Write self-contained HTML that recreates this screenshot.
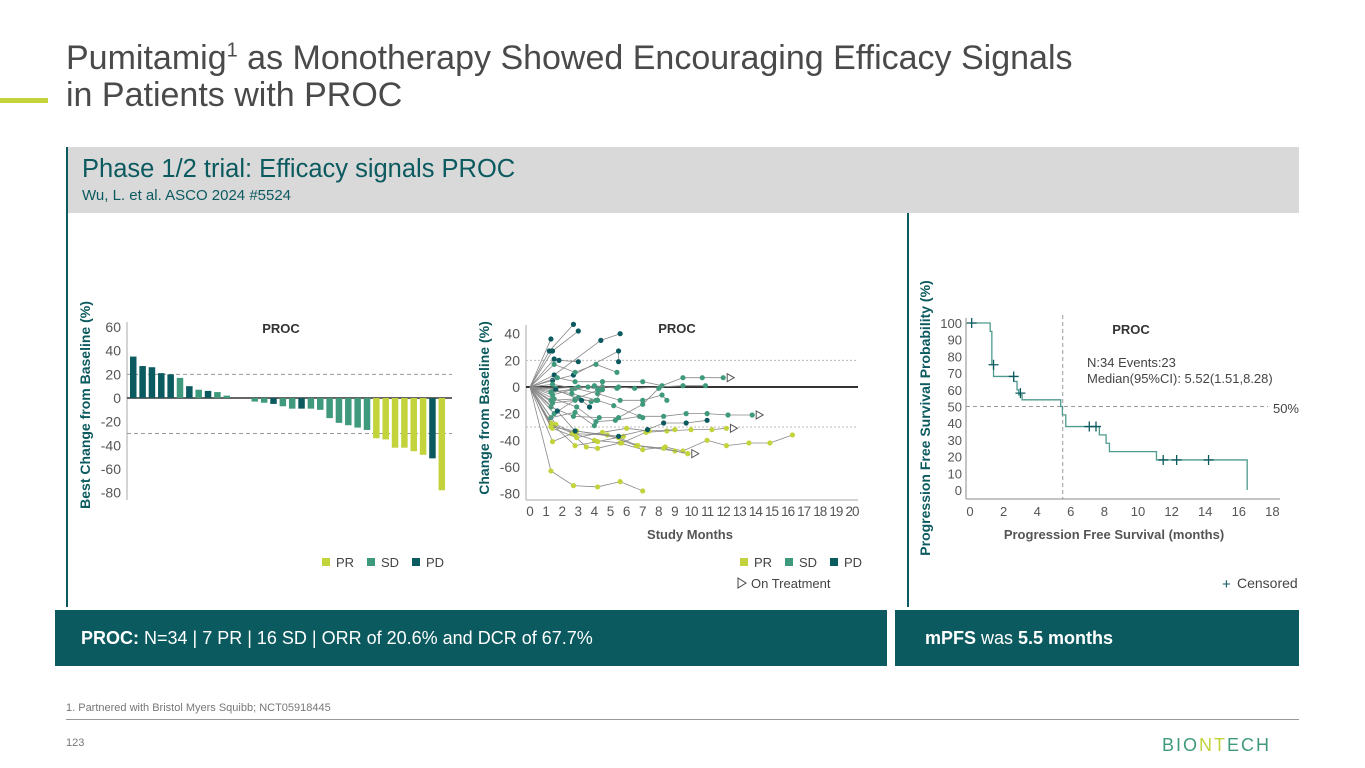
<!DOCTYPE html>
<html><head><meta charset="utf-8"><style>
body{margin:0;width:1365px;height:768px;overflow:hidden;background:#fff;font-family:"Liberation Sans",sans-serif;position:relative}
.abs{position:absolute}
svg text{font-family:"Liberation Sans",sans-serif}
</style></head><body>
<div class="abs" style="left:66px;top:40px;font-size:34px;line-height:37px;color:#4a4a4a">Pumitamig<sup style="font-size:20px;line-height:0">1</sup> as Monotherapy Showed Encouraging Efficacy Signals<br>in Patients with PROC</div>
<div class="abs" style="left:0;top:98px;width:48px;height:5px;background:#c2d33b"></div>
<div class="abs" style="left:66px;top:147px;width:1233px;height:66px;background:#d9d9d9"></div>
<div class="abs" style="left:82px;top:155px;font-size:25.5px;color:#0b5a5f">Phase 1/2 trial: Efficacy signals PROC</div>
<div class="abs" style="left:82px;top:187px;font-size:15px;color:#0b5a5f">Wu, L. et al. ASCO 2024 #5524</div>
<div class="abs" style="left:66px;top:147px;width:1.5px;height:460px;background:#0b5a5f"></div>
<div class="abs" style="left:907px;top:213px;width:1.5px;height:394px;background:#0b5a5f"></div>
<div class="abs" style="left:55px;top:610px;width:832px;height:56px;background:#0b5a5f;color:#fff;font-size:18px;line-height:56px;padding-left:26px;box-sizing:border-box"><b>PROC:</b> N=34 | 7 PR | 16 SD | ORR of 20.6% and DCR of 67.7%</div>
<div class="abs" style="left:895px;top:610px;width:404px;height:56px;background:#0b5a5f;color:#fff;font-size:18px;line-height:56px;padding-left:30px;box-sizing:border-box"><b>mPFS</b> was <b>5.5 months</b></div>
<div class="abs" style="left:66px;top:702px;font-size:11px;color:#777">1. Partnered with Bristol Myers Squibb; NCT05918445</div>
<div class="abs" style="left:66px;top:719px;width:1233px;height:1px;background:#999"></div>
<div class="abs" style="left:66px;top:737px;font-size:11px;color:#777">123</div>
<div class="abs" style="left:1162px;top:735px;font-size:18px;letter-spacing:2px;color:#3f9a7d">BIO<span style="color:#c2d33b">NT</span>ECH</div>
<svg class="abs" style="left:0;top:0" width="1365" height="768" id="charts"></svg>
<script>
// ---- Waterfall data ----
const wfValues=[35,27,26,21,20,17,10,7,6,5,2,0,0,-3,-4,-5,-7,-9,-9,-9,-10,-17,-21,-23,-25,-27,-34,-35,-42,-42,-45,-48,-51,-78];
const wfResp=["PD","PD","PD","PD","PD","SD","PD","SD","PD","SD","SD","SD","SD","SD","SD","PD","SD","SD","PD","SD","SD","SD","SD","SD","SD","SD","PR","PR","PR","PR","PR","PR","PD","PR"];
const wfTicks=[60,40,20,0,-20,-40,-60,-80];
// ---- Spider data: [month,value] points per patient ----
const spResp=["PD","PD","PD","PD","PD","PD","SD","SD","SD","SD","SD","SD","SD","SD","SD","SD","SD","PR","PR","PR","PR","PR","PR","PR","PD","SD","PD","SD"];
const spSeries=[
[[0,0],[1.2,27],[2.7,47]],
[[0,0],[1.4,27],[3,42]],
[[0,0],[1.3,36]],
[[0,0],[1.5,21],[1.8,20],[3,19]],
[[0,0],[1.5,9],[4.4,35],[5.6,40]],
[[0,0],[1.4,5],[2.7,9],[5.5,27],[5.5,19]],
[[0,0],[1.5,17],[2.8,11],[4.1,17],[5.4,11]],
[[0,0],[1.7,7],[2.8,4],[4.5,4],[7,4],[8.2,1],[9.5,7],[10.7,7],[12,7]],
[[0,0],[1.4,2],[2.8,-1],[4.2,-5],[5.6,-10],[7,-10],[8.2,-6],[8.5,-10]],
[[0,0],[1.6,-1],[3,0],[4.5,0],[5.5,0],[6.5,-1],[9.5,1],[10.9,1]],
[[0,0],[1.5,-9],[2.9,-15],[4.1,-26],[5.3,-25],[6.8,-22],[8.3,-22],[9.7,-20],[11,-20],[12.3,-21],[13.8,-21]],
[[0,0],[1.3,-15],[2.7,-22],[4.3,-23],[5.5,-23],[7,-13],[8,-1]],
[[0,0],[1.4,-3],[2.6,-5],[4.2,-10],[5.2,-14],[7,-23]],
[[0,0],[1.3,-10],[2.8,-9],[4.3,-2],[4.5,4]],
[[0,0],[1.3,-23],[2.8,-19],[4,-29]],
[[0,0],[1.5,-20],[3,-8],[3.8,-11]],
[[0,0],[1.4,-6],[2.6,-2],[4.0,1],[5.4,-1]],
[[0,0],[1.4,-41],[2.6,-35],[3.5,-45],[4.2,-46],[5.6,-42],[7,-47],[8.4,-45],[9.5,-48],[11,-40],[12.2,-44],[13.6,-42],[14.9,-42],[16.3,-36]],
[[0,0],[1.3,-63],[2.7,-74],[4.2,-75],[5.6,-71],[7,-78]],
[[0,0],[1.6,-28],[2.8,-35],[4,-40],[5.7,-42],[7.2,-34],[8.5,-33],[10,-32],[11.3,-32],[12.2,-31]],
[[0,0],[1.4,-31],[2.9,-38],[4.5,-34],[6,-31],[7.4,-33],[9,-32]],
[[0,0],[1.3,-27],[2.8,-44],[4.2,-41],[5.8,-37]],
[[0,0],[1.3,-28],[2.7,-35],[4.8,-36],[6.6,-44],[9,-48],[9.8,-50]],
[[0,0],[1.3,-30],[2.9,-33],[5.5,-38],[6.7,-44],[8.3,-46],[9.8,-50]],
[[0,0],[1.7,-18],[2.8,-33],[5.5,-37],[7.3,-32],[8.3,-27],[9.7,-27],[11,-25]],
[[0,0],[1.4,-12],[2.8,-10],[4.1,-10],[4.5,-2]],
[[0,0],[1.6,-2],[3.2,-10],[3.7,-15]],
[[0,0],[1.3,-4],[3.6,0],[4.2,-2]]];
const spOnTreat=[7,10,19,23];
const spXTicks=[0,1,2,3,4,5,6,7,8,9,10,11,12,13,14,15,16,17,18,19,20];
const spYTicks=[40,20,0,-20,-40,-60,-80];
// ---- KM data ----
const kmTimes=[0,1.2,1.3,1.4,1.6,2.6,2.8,2.9,3.1,3.5,5.4,5.5,5.7,7.6,7.7,8.1,8.3,11.1,16.5];
const kmSurv=[100,95,75,68,68,65,60,57,54,54,50,45,38,38,33,28,23,18,0];
const kmCensT=[0.1,1.4,2.6,3.0,7.1,7.5,11.5,12.3,14.2];
const kmCensS=[100,75,68,58,38,38,18,18,18];
const kmXTicks=[0,2,4,6,8,10,12,14,16,18];
const kmYTicks=[100,90,80,70,60,50,40,30,20,10,0];

const C={PD:"#0b5a5f",SD:"#3f9a7d",PR:"#c2d33b"};
const svg=document.getElementById('charts');
function el(t,a,txt){const e=document.createElementNS('http://www.w3.org/2000/svg',t);for(const k in a)e.setAttribute(k,a[k]);if(txt!==undefined)e.textContent=txt;svg.appendChild(e);return e;}

// Waterfall
const wy=v=>398-v*(71/60);
const wx=i=>130+i*9.35;
let e=el('line',{x1:127,y1:322,x2:127,y2:500,stroke:'#aaa'});

wfTicks.forEach(t=>{const q=el('text',{x:121,y:wy(t)+5,'text-anchor':'end','font-size':14,fill:'#555'},t);});
[20,-30].forEach(v=>{const q=el('line',{x1:127,x2:452,y1:wy(v),y2:wy(v),stroke:'#999','stroke-dasharray':'4,3'});});
e=el('line',{x1:127,x2:452,y1:wy(0),y2:wy(0),stroke:'#333','stroke-width':1.5});
wfValues.forEach((v,i)=>{const b=el('rect',{x:wx(i),width:6.5,y:Math.min(wy(v),wy(0)),height:Math.abs(wy(v)-wy(0)),fill:C[wfResp[i]]});});
e=el('text',{x:281,y:333,'text-anchor':'middle','font-size':13,'font-weight':'bold',fill:'#333'},'PROC');
e=el('text',{transform:'translate(90,405) rotate(-90)','text-anchor':'middle','font-size':14,'font-weight':'bold',fill:'#0b5a5f'},'Best Change from Baseline (%)');
[['PR',322],['SD',367],['PD',412]].forEach(([k,x])=>{const r=el('rect',{x:x,y:558,width:8,height:8,fill:C[k]});const t=el('text',{x:x+14,y:567,'font-size':13,fill:'#444'},k);});

// Spider
const sx=m=>530+m*16.1;
const sy=v=>387-v*(53.3/40);
e=el('line',{x1:526,y1:325,x2:526,y2:500,stroke:'#aaa'});
e=el('line',{x1:526,y1:500,x2:858,y2:500,stroke:'#aaa'});
spYTicks.forEach(t=>{const q=el('text',{x:520,y:sy(t)+5,'text-anchor':'end','font-size':14,fill:'#555'},t);});
spXTicks.forEach(t=>{const q=el('text',{x:sx(t),y:516,'text-anchor':'middle','font-size':13.5,fill:'#555','letter-spacing':t>=10?'-1':'0'},t);});
[20,-30].forEach(v=>{const q=el('line',{x1:526,x2:858,y1:sy(v),y2:sy(v),stroke:'#bbb','stroke-dasharray':'2,2'});});
e=el('line',{x1:526,x2:858,y1:sy(0),y2:sy(0),stroke:'#333','stroke-width':2});
spSeries.forEach((s,i)=>{const p=el('polyline',{points:s.map(d=>sx(d[0])+','+sy(d[1])).join(' '),fill:'none',stroke:'#888','stroke-width':0.8});
s.slice(1).forEach(d=>{const c=el('circle',{cx:sx(d[0]),cy:sy(d[1]),r:2.6,fill:C[spResp[i]]});});
if(spOnTreat.includes(i)){const l=s[s.length-1];const x=sx(l[0])+4,y=sy(l[1]);const t=el('polygon',{points:`${x},${y-4} ${x+7},${y} ${x},${y+4}`,fill:'#fff',stroke:'#555'});}});
e=el('text',{x:677,y:333,'text-anchor':'middle','font-size':13,'font-weight':'bold',fill:'#333'},'PROC');
e=el('text',{x:690,y:539,'text-anchor':'middle','font-size':13,'font-weight':'bold',fill:'#555'},'Study Months');
e=el('text',{transform:'translate(489,408) rotate(-90)','text-anchor':'middle','font-size':14,'font-weight':'bold',fill:'#0b5a5f'},'Change from Baseline (%)');
[['PR',740],['SD',785],['PD',830]].forEach(([k,x])=>{const r=el('rect',{x:x,y:558,width:8,height:8,fill:C[k]});const t=el('text',{x:x+14,y:567,'font-size':13,fill:'#444'},k);});
e=el('polygon',{points:'738,578 746,583 738,588',fill:'#fff',stroke:'#444'});
e=el('text',{x:751,y:588,'font-size':13,fill:'#444'},'On Treatment');

// KM
const kx=t=>970+t*16.8;
const ky=s=>490-s*1.67;
e=el('line',{x1:966,y1:318,x2:966,y2:499,stroke:'#888'});
e=el('line',{x1:966,y1:499,x2:1280,y2:499,stroke:'#888'});
kmYTicks.forEach(t=>{const q=el('text',{x:962,y:ky(t)+5,'text-anchor':'end','font-size':13,fill:'#555'},t);});
kmXTicks.forEach(t=>{const q=el('text',{x:kx(t),y:516,'text-anchor':'middle','font-size':13,fill:'#555'},t);});
e=el('line',{x1:966,x2:1268,y1:ky(50),y2:ky(50),stroke:'#999','stroke-dasharray':'4,3'});
e=el('line',{x1:kx(5.52),x2:kx(5.52),y1:315,y2:499,stroke:'#999','stroke-dasharray':'4,3'});
let pts=[];kmTimes.forEach((t,i)=>{if(i>0)pts.push(kx(t)+','+ky(kmSurv[i-1]));pts.push(kx(t)+','+ky(kmSurv[i]));});
e=el('polyline',{points:pts.join(' '),fill:'none',stroke:'#4f9a8e','stroke-width':1.3});
kmCensT.forEach((t,i)=>{const q=el('path',{d:`M${kx(t)-5},${ky(kmCensS[i])}h10M${kx(t)},${ky(kmCensS[i])-5}v10`,stroke:'#0b5a5f','stroke-width':1.3});});
e=el('text',{x:1131,y:334,'text-anchor':'middle','font-size':13,'font-weight':'bold',fill:'#333'},'PROC');
e=el('text',{x:1087,y:367,'font-size':13,fill:'#444'},'N:34 Events:23');
e=el('text',{x:1087,y:383,'font-size':13,fill:'#444'},'Median(95%CI): 5.52(1.51,8.28)');
e=el('text',{x:1299,y:413,'text-anchor':'end','font-size':13,fill:'#444'},'50%');
e=el('text',{x:1114,y:539,'text-anchor':'middle','font-size':13,'font-weight':'bold',fill:'#555'},'Progression Free Survival (months)');
e=el('text',{transform:'translate(930,418) rotate(-90)','text-anchor':'middle','font-size':14,'font-weight':'bold',fill:'#0b5a5f'},'Progression Free Survival Probability (%)');
e=el('text',{x:1222,y:589,'font-size':15,fill:'#0b5a5f'},'+');
e=el('text',{x:1237,y:588,'font-size':14,fill:'#444'},'Censored');
</script>
</body></html>
